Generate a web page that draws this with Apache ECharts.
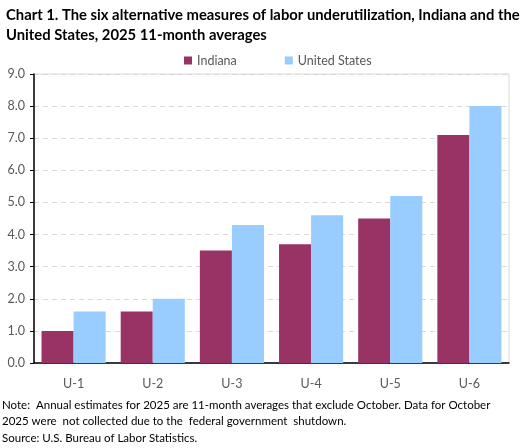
<!DOCTYPE html>
<html>
<head>
<meta charset="utf-8">
<title>Chart 1</title>
<script src="https://cdn.jsdelivr.net/npm/echarts@6/dist/echarts.min.js"></script>
</head>
<body style="margin:0;padding:0;background:#fff;">
<div id="main" style="width:527px;height:448px;"></div>
<script>
// measures of labor underutilization, 2025 11-month averages
var categories = ['U-1', 'U-2', 'U-3', 'U-4', 'U-5', 'U-6'];
var indiana = [1.0, 1.6, 3.5, 3.7, 4.5, 7.1];
var unitedStates = [1.6, 2.0, 4.3, 4.6, 5.2, 8.0];
var seriesNames = ['Indiana', 'United States'];

var font = 'Lato';
var chart = echarts.init(document.getElementById('main'));

var option = {
    backgroundColor: '#fff',
    animation: false,
    textStyle: { fontFamily: font },
    title: {
        text: 'Chart 1. The six alternative measures of labor underutilization, Indiana and the\nUnited States, 2025 11-month averages',
        left: 1,
        top: 0,
        textStyle: {
            fontFamily: font,
            fontSize: 14.8,
            fontWeight: 'bold',
            color: '#000',
            lineHeight: 20
        }
    },
    legend: {
        data: seriesNames,
        top: 49,
        left: 179,
        itemWidth: 8,
        itemHeight: 8,
        itemGap: 48,
        icon: 'rect',
        textStyle: { fontFamily: font, fontSize: 12.5, color: '#595959' }
    },
    grid: {
        left: 34,
        right: 18,
        top: 74,
        bottom: 85,
        show: true,
        borderColor: '#d9d9d9',
        borderWidth: 1
    },
    xAxis: {
        type: 'category',
        data: categories,
        axisLine: { lineStyle: { color: '#000', width: 1.5 } },
        axisTick: { show: false },
        axisLabel: { fontFamily: font, fontSize: 12.5, color: '#595959', margin: 14 }
    },
    yAxis: {
        type: 'value',
        min: 0,
        max: 9,
        interval: 1,
        axisLine: { show: true, lineStyle: { color: '#000', width: 1.5 } },
        axisTick: { show: true, length: 4, lineStyle: { color: '#000' } },
        axisLabel: {
            fontFamily: font, fontSize: 12.5, color: '#595959', margin: 9,
            formatter: function (v) { return v.toFixed(1); }
        },
        splitLine: { lineStyle: { color: '#d9d9d9', type: [5, 4] } }
    },
    series: [
        {
            name: seriesNames[0],
            type: 'bar',
            data: indiana,
            barGap: '0%',
            barCategoryGap: '19%',
            itemStyle: { color: '#993366' }
        },
        {
            name: seriesNames[1],
            type: 'bar',
            data: unitedStates,
            itemStyle: { color: '#99ccff' }
        }
    ],
    graphic: [
        {
            type: 'text',
            left: 2,
            top: 397,
            style: {
                text: 'Note:  Annual estimates for 2025 are 11-month averages that exclude October. Data for October\n2025 were  not collected due to the  federal government  shutdown.\nSource: U.S. Bureau of Labor Statistics.',
                font: '11.5px ' + font,
                fill: '#000',
                lineHeight: 16.5
            }
        }
    ]
};

chart.setOption(option);
</script>
</body>
</html>
